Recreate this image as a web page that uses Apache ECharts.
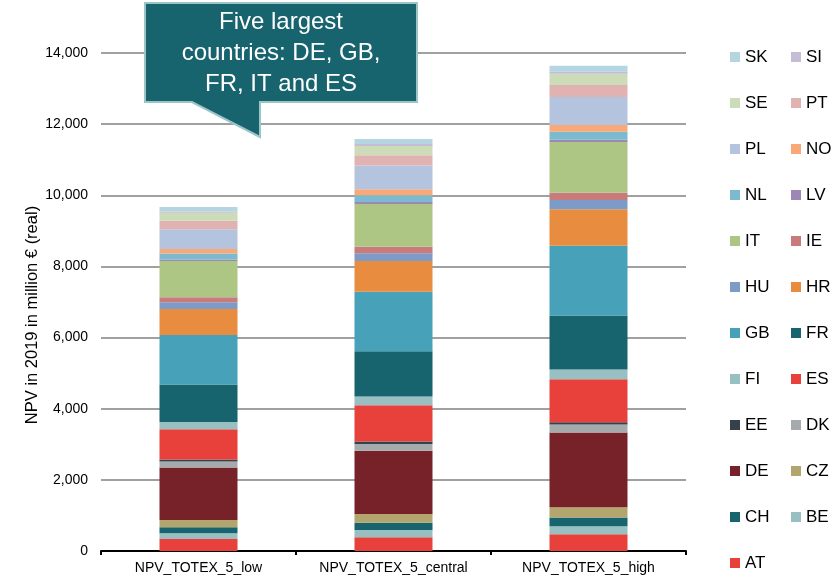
<!DOCTYPE html>
<html>
<head>
<meta charset="utf-8">
<script src="https://cdn.jsdelivr.net/npm/echarts@6/dist/echarts.min.js"></script>
<style>
  html, body { margin: 0; padding: 0; background: #ffffff; }
  #chart { width: 837px; height: 584px; }
</style>
</head>
<body>
<div id="chart"></div>
<script>
// Scenario categories on the x axis
const scenarios = ['NPV_TOTEX_5_low', 'NPV_TOTEX_5_central', 'NPV_TOTEX_5_high'];

// Country stack order, bottom to top
const countries = ['AT', 'BE', 'CH', 'CZ', 'DE', 'DK', 'EE', 'ES', 'FI', 'FR', 'GB',
                   'HR', 'HU', 'IE', 'IT', 'LV', 'NL', 'NO', 'PL', 'PT', 'SE', 'SI', 'SK'];

// NPV per country (million €, real 2019) for low / central / high
const AT = [340, 390, 470];
const BE = [160, 200, 225];
const CH = [170, 205, 245];
const CZ = [205, 245, 290];
const DE = [1470, 1780, 2100];
const DK = [170, 190, 225];
const EE = [55, 65, 65];
const ES = [855, 1020, 1210];
const FI = [205, 245, 270];
const FR = [1050, 1275, 1520];
const GB = [1395, 1670, 1960];
const HR = [730, 870, 1030];
const HU = [190, 215, 255];
const IE = [140, 185, 205];
const IT = [1020, 1200, 1425];
const LV = [37, 55, 65];
const NL = [170, 190, 225];
const NO = [130, 170, 190];
const PL = [555, 665, 785];
const PT = [235, 290, 340];
const SE = [225, 260, 320];
const SI = [37, 55, 55];
const SK = [130, 140, 170];

// Y axis ticks
const yTicks = [0, 2000, 4000, 6000, 8000, 10000, 12000, 14000];

// Legend columns, top to bottom
const legendLeft = ['SK', 'SE', 'PL', 'NL', 'IT', 'HU', 'GB', 'FI', 'EE', 'DE', 'CH', 'AT'];
const legendRight = ['SI', 'PT', 'NO', 'LV', 'IE', 'HR', 'FR', 'ES', 'DK', 'CZ', 'BE'];

const values = { AT, BE, CH, CZ, DE, DK, EE, ES, FI, FR, GB, HR, HU, IE, IT, LV, NL, NO, PL, PT, SE, SI, SK };

const palette = {
  AT: '#e8403a', BE: '#98c0c3', CH: '#17636e', CZ: '#b2a56d', DE: '#772229',
  DK: '#a5abad', EE: '#37414a', ES: '#e8403a', FI: '#98c0c3', FR: '#17636e',
  GB: '#47a1b9', HR: '#e88d40', HU: '#7c9bc7', IE: '#c97b7b', IT: '#adc683',
  LV: '#9c87b5', NL: '#7bbacf', NO: '#f9a878', PL: '#b4c3de', PT: '#e0b3b2',
  SE: '#cddcb8', SI: '#c5bcd5', SK: '#b5d5e0'
};

const FONT = '"Liberation Sans", Arial, sans-serif';

const series = countries.map(c => ({
  name: c,
  type: 'bar',
  stack: 'npv',
  barWidth: 78,
  itemStyle: { color: palette[c] },
  data: values[c]
}));

const legendCommon = {
  orient: 'vertical',
  padding: 0,
  itemWidth: 10,
  itemHeight: 10,
  itemGap: 26,
  icon: 'rect',
  selectedMode: false,
  textStyle: { fontFamily: FONT, fontSize: 17, color: '#000', lineHeight: 20 }
};

const chart = echarts.init(document.getElementById('chart'));
chart.setOption({
  animation: false,
  backgroundColor: '#ffffff',
  grid: { left: 101, right: 151, top: 53, bottom: 33, containLabel: false },
  legend: [
    Object.assign({}, legendCommon, { left: 730, top: 47, data: legendLeft }),
    Object.assign({}, legendCommon, { left: 791, top: 47, data: legendRight })
  ],
  xAxis: {
    type: 'category',
    data: scenarios,
    axisLine: { lineStyle: { color: '#000', width: 2 } },
    axisTick: { show: true, alignWithLabel: false, length: 4, lineStyle: { color: '#000', width: 2 } },
    axisLabel: { fontFamily: FONT, fontSize: 14, color: '#000', margin: 10 }
  },
  yAxis: {
    type: 'value',
    min: yTicks[0],
    max: yTicks[yTicks.length - 1],
    interval: 2000,
    name: 'NPV in 2019 in million € (real)',
    nameLocation: 'middle',
    nameRotate: 90,
    nameGap: 60,
    nameMoveOverlap: false,
    nameTextStyle: { fontFamily: FONT, fontSize: 16.5, color: '#000', padding: [0, 26, 0, 0] },
    axisLine: { show: false },
    axisTick: { show: false },
    axisLabel: {
      fontFamily: FONT, fontSize: 14, color: '#000', margin: 13,
      formatter: v => v.toLocaleString('en-US')
    },
    splitLine: { lineStyle: { color: '#a0a0a0', width: 2 } }
  },
  series: series,
  graphic: [
    {
      type: 'polygon',
      z: 100,
      shape: { points: [[145, 3], [417, 3], [417, 102], [260, 102], [260, 137], [192, 102], [145, 102]] },
      style: { fill: '#17636e', stroke: '#9cc5c8', lineWidth: 2 }
    },
    {
      type: 'text',
      z: 101,
      x: 281,
      y: 7,
      style: {
        text: 'Five largest\ncountries: DE, GB,\nFR, IT and ES',
        align: 'center',
        verticalAlign: 'top',
        fill: '#ffffff',
        fontFamily: FONT,
        fontSize: 24,
        lineHeight: 31
      }
    }
  ]
});
</script>
</body>
</html>
